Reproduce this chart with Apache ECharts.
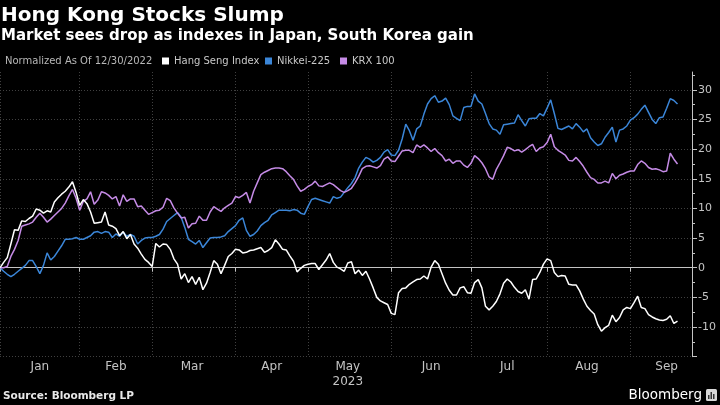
<!DOCTYPE html>
<html><head><meta charset="utf-8">
<script src="https://cdn.jsdelivr.net/npm/echarts@6/dist/echarts.min.js"></script>
<style>html,body{margin:0;padding:0;background:#000;}#c{width:720px;height:405px;}</style>
</head><body><div id="c"></div>
<script>
const titleText = 'Hong Kong Stocks Slump';
const subtitleText = 'Market sees drop as indexes in Japan, South Korea gain';
const noteText = 'Normalized As Of 12/30/2022';
const sourceText = 'Source: Bloomberg LP';
const brandText = 'Bloomberg';
const seriesNames = ['Hang Seng Index', 'Nikkei-225', 'KRX 100'];
const monthLabels = ['Jan','Feb','Mar','Apr','May','Jun','Jul','Aug','Sep'];
const yearLabel = '2023';
const yTickValues = [-15,-10,-5,0,5,10,15,20,25,30];
const yLabelValues = [-10,-5,0,5,10,15,20,25,30];

// one value per trading day (weekday) starting 12/30/2022
const hangSeng = [0,0.9,1.7,4.0,6.4,6.3,7.9,7.8,8.3,8.7,9.9,9.7,9.2,9.6,9.4,11.1,11.8,12.4,12.9,13.6,
14.5,12.7,10.5,11.5,10.8,9.4,7.5,7.6,7.7,9.4,7.2,7.0,6.6,5.4,6.1,4.9,5.6,4.0,3.3,2.3,
1.4,0.9,0.2,4.1,3.5,4.0,3.9,3.1,1.5,0.6,-1.9,-1.0,-2.5,-1.5,-2.8,-1.6,-3.7,-2.6,-0.8,1.2,
0.6,-1.0,0.4,1.9,2.4,3.1,3.0,2.5,2.6,2.9,3.0,3.2,3.4,2.6,2.9,3.4,4.7,4.0,3.1,3.0,
2.0,1.1,-0.7,-0.1,0.4,0.6,0.7,0.7,-0.3,0.5,1.3,2.4,0.9,0.1,-0.2,-0.6,0.8,1.0,-1.0,-0.4,
-1.3,-0.6,-1.9,-3.4,-5.0,-5.6,-5.9,-6.2,-7.7,-7.9,-4.2,-3.5,-3.4,-2.8,-2.4,-2.0,-1.9,-1.4,-1.9,0.1,
1.2,0.6,-1.0,-2.6,-3.8,-4.6,-4.6,-3.4,-3.2,-4.2,-4.3,-2.5,-2.0,-3.4,-6.5,-7.1,-6.5,-5.7,-4.4,-2.6,
-1.9,-2.4,-3.3,-4.0,-4.3,-3.7,-5.3,-2.0,-1.9,-0.8,0.6,1.5,1.2,-0.8,-1.5,-1.3,-1.4,-2.8,-2.9,-2.9,
-3.9,-5.3,-6.5,-7.2,-7.8,-9.6,-10.7,-10.1,-9.7,-8.0,-9.1,-8.4,-7.1,-6.7,-6.9,-5.9,-4.8,-6.7,-6.9,-7.9,
-8.3,-8.6,-8.8,-8.9,-8.7,-8.1,-9.4,-9.0];
const nikkei = [0,-0.6,-1.1,-1.5,-1.1,-0.6,-0.1,0.4,1.2,1.2,0.2,-1.0,0.4,2.5,1.3,1.9,2.8,3.7,4.8,4.8,
4.9,5.1,4.8,4.8,5.1,5.4,6.0,6.1,5.8,6.1,6.0,5.1,5.7,5.3,6.0,5.3,5.6,5.3,4.0,4.6,
5.0,5.1,5.1,5.3,5.6,6.5,7.8,8.3,8.8,9.3,8.5,6.8,4.8,4.4,4.0,4.6,3.4,4.2,5.0,5.1,
5.1,5.2,5.4,6.1,6.6,7.1,8.0,8.4,6.3,5.3,5.6,6.2,7.1,7.6,8.0,8.9,9.3,9.7,9.7,9.7,
9.6,9.8,9.7,9.2,9.0,10.3,11.5,11.7,11.5,11.3,11.1,10.9,12.0,11.7,11.9,12.7,13.5,14.2,15.2,16.8,
17.8,18.6,18.3,17.8,18.1,18.6,19.5,19.9,19.0,18.9,19.8,21.7,24.2,23.1,21.5,23.4,23.9,25.9,27.6,28.5,
29.0,27.9,28.1,28.6,27.5,25.6,25.2,24.8,27.0,27.2,27.2,29.3,28.1,27.6,26.0,24.3,23.4,23.2,22.5,24.1,
24.2,24.3,24.4,25.8,24.8,23.9,25.1,25.2,25.2,26.0,25.6,26.9,28.3,26.0,23.5,23.3,23.6,23.9,23.4,24.3,
23.7,22.9,23.4,21.9,21.2,20.6,20.9,22.0,22.8,23.7,21.2,23.2,23.4,23.9,24.9,25.3,25.9,26.7,27.4,26.2,
25.0,24.3,25.3,25.4,26.9,28.5,28.2,27.6];
const krx = [0,0,0.2,1.9,3.1,4.6,7.0,7.2,7.4,7.7,8.5,9.2,8.5,7.7,8.2,8.8,9.4,10.0,10.9,12.1,
13.2,11.7,9.7,11.2,11.6,12.8,10.7,11.4,12.8,12.6,12.2,11.6,12.0,10.4,12.3,11.2,11.6,11.6,10.3,10.4,
9.7,9.0,9.3,9.6,9.7,10.2,11.7,11.3,10.1,9.2,8.4,8.5,6.7,7.4,7.5,8.7,8.0,8.0,9.4,10.3,
9.9,9.5,10.1,10.5,10.9,12.0,11.8,12.2,12.7,10.9,12.9,14.3,15.7,16.1,16.4,16.7,16.8,16.8,16.7,16.2,
15.5,14.9,13.8,12.9,13.2,13.7,14.0,14.6,13.8,13.7,14.0,14.3,14.0,13.5,13.0,12.7,13.0,13.4,14.3,15.4,
16.7,17.1,17.2,17.0,16.8,17.2,18.3,18.7,18.0,17.9,18.8,19.7,19.8,19.8,19.4,20.7,20.3,20.7,20.2,19.6,
20.1,19.4,18.9,18.0,18.3,17.6,18.0,18.0,17.3,16.9,17.6,18.9,18.4,17.7,16.7,15.3,14.9,16.6,17.7,18.9,
20.3,20.1,19.7,19.9,19.5,19.9,20.4,20.8,19.6,20.2,20.4,21.1,22.5,20.4,19.8,19.4,19.0,18.1,18.0,18.6,
17.9,17.1,16.1,15.2,14.9,14.3,14.3,14.6,14.3,15.9,15.0,15.6,15.8,16.1,16.3,16.3,17.4,18.0,17.6,16.9,
16.6,16.7,16.5,16.2,16.3,19.3,18.3,17.5];

// trading-day calendar (weekdays) from the normalization date
const startDate = [2022, 11, 30];
const axisDays = 192;
function buildWeekdays(n) {
  const out = [];
  const d = new Date(Date.UTC(startDate[0], startDate[1], startDate[2]));
  while (out.length < n) {
    const wd = d.getUTCDay();
    if (wd !== 0 && wd !== 6) out.push(new Date(d.getTime()));
    d.setUTCDate(d.getUTCDate() + 1);
  }
  return out;
}
const allDays = buildWeekdays(axisDays + 10);
const categories = allDays.slice(0, axisDays).map(d => d.toISOString().slice(0, 10));
const monthEnds = [];
for (let i = 0; i < allDays.length - 1; i++) {
  if (allDays[i].getUTCMonth() !== allDays[i + 1].getUTCMonth()) monthEnds.push(i);
}
const endSet = new Set(monthEnds.filter(i => i < axisDays));
const labelAt = {};
for (let k = 0; k < monthLabels.length && k + 1 < monthEnds.length; k++) {
  const idx = Math.floor((monthEnds[k] + monthEnds[k + 1]) / 2);
  labelAt[idx] = monthLabels[k] + (monthLabels[k] === 'May' ? '\n' + yearLabel : '');
}

const FONT = 'DejaVu Sans';
const axisColor = '#c4c4c4';
const gridColor = '#404040';
const colors = ['#ffffff', '#3b86d8', '#c58be6'];

const chart = echarts.init(document.getElementById('c'), null, {renderer: 'canvas'});
chart.setOption({
  backgroundColor: '#000000',
  animation: false,
  title: [
    {text: titleText, left: 1, top: 6, padding: 0, textStyle: {color: '#ffffff', fontSize: 20, fontWeight: 'bold', fontFamily: FONT, lineHeight: 20}},
    {text: subtitleText, left: 1, top: 29, padding: 0, textStyle: {color: '#ffffff', fontSize: 15, fontWeight: 'bold', fontFamily: FONT, lineHeight: 15}},
    {text: noteText, left: 5, top: 56, padding: 0, textStyle: {color: '#b8b8b8', fontSize: 10, fontWeight: 'normal', fontFamily: FONT, lineHeight: 10}},
    {text: sourceText, left: 3, top: 391, padding: 0, textStyle: {color: '#e8e8e8', fontSize: 10.5, fontWeight: 'bold', fontFamily: FONT, lineHeight: 11}},
    {text: brandText, right: 18, top: 388, padding: 0, textStyle: {color: '#ffffff', fontSize: 13.5, fontWeight: 'normal', fontFamily: FONT, lineHeight: 14}}
  ],
  legend: seriesNames.map((name, k) => ({
    data: [name], left: [162, 265, 340][k], top: 56, padding: 0,
    icon: 'rect', itemWidth: 7, itemHeight: 7, itemGap: 0,
    textStyle: {color: '#c8c8c8', fontSize: 10, fontFamily: FONT}
  })),
  grid: {left: 0, right: 28, top: 72, bottom: 48.3, containLabel: false},
  xAxis: {
    type: 'category', data: categories, boundaryGap: false,
    axisLine: {show: true, lineStyle: {color: axisColor, width: 1}},
    axisTick: {show: true, interval: (i) => endSet.has(i), length: 4, lineStyle: {color: axisColor}},
    axisLabel: {
      show: true, interval: (i) => labelAt[i] !== undefined,
      formatter: (v, i) => labelAt[i] || '',
      color: axisColor, fontSize: 12, fontFamily: FONT, margin: 3, lineHeight: 15
    },
    splitLine: {show: true, interval: (i) => endSet.has(i), lineStyle: {type: [1, 2], color: gridColor, width: 1}}
  },
  yAxis: {
    type: 'value', position: 'right', min: -15, max: 33, interval: 5,
    axisLine: {show: true, lineStyle: {color: axisColor, width: 1}},
    axisTick: {show: true, length: 5, customValues: yTickValues, lineStyle: {color: axisColor}},
    minorTick: {show: true, splitNumber: 2, length: 3, lineStyle: {color: axisColor}},
    axisLabel: {
      show: true, customValues: yLabelValues,
      formatter: (v) => (yLabelValues.indexOf(v) >= 0 ? String(v) : ''),
      color: axisColor, fontSize: 11, fontFamily: FONT, margin: 6
    },
    splitLine: {show: true, lineStyle: {type: [1, 2], color: gridColor, width: 1}}
  },
  series: [
    {name: seriesNames[0], type: 'line', data: hangSeng, showSymbol: false, symbol: 'none', color: colors[0], lineStyle: {width: 1.5, color: colors[0]}, z: 3},
    {name: seriesNames[1], type: 'line', data: nikkei, showSymbol: false, symbol: 'none', color: colors[1], lineStyle: {width: 1.5, color: colors[1]}, z: 2},
    {name: seriesNames[2], type: 'line', data: krx, showSymbol: false, symbol: 'none', color: colors[2], lineStyle: {width: 1.5, color: colors[2]}, z: 2}
  ],
  graphic: [
    {type: 'rect', left: 706, top: 389, shape: {width: 11, height: 12, r: 1.5}, style: {fill: '#d8d8d8'}},
    {type: 'rect', left: 708, top: 395, shape: {width: 1.5, height: 4}, style: {fill: '#333'}},
    {type: 'rect', left: 710.5, top: 392, shape: {width: 1.5, height: 7}, style: {fill: '#333'}},
    {type: 'rect', left: 713, top: 394, shape: {width: 1.5, height: 5}, style: {fill: '#333'}}
  ]
});
</script></body></html>
